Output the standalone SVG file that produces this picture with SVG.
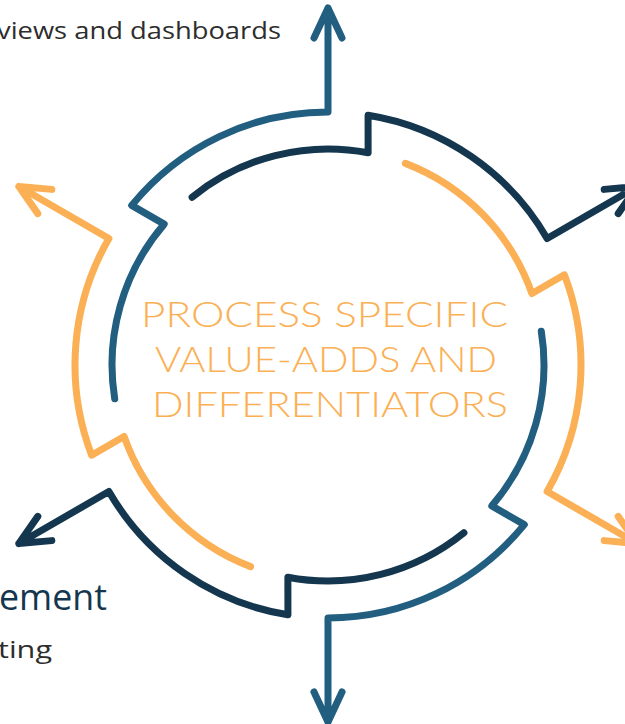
<svg xmlns="http://www.w3.org/2000/svg" xmlns:xlink="http://www.w3.org/1999/xlink" width="625" height="724" viewBox="0 0 625 724">
<style>
.seg{fill:none;stroke-width:7;stroke-linecap:round;stroke-linejoin:round}
.blue{stroke:#215e80}
.navy{stroke:#14374f}
.orange{stroke:#fbb055}
.center{font-family:Lato,"Open Sans","Liberation Sans",sans-serif;font-weight:300;font-size:35px;fill:#fbb055}
.label{font-family:"Open Sans",Lato,"Liberation Sans",sans-serif;font-size:23px;fill:#2d2d2d}
.head{font-family:"Open Sans",Lato,"Liberation Sans",sans-serif;font-size:36px;fill:#14374f}
</style>
<defs>
<path id="seg" d="M314 38 L328 8 L342 38 M328 8 L328 112 A253 253 0 0 0 131.7 205.4 L164.2 224.1 A216 216 0 0 0 114.7 398.8"/>
</defs>
<g id="connectors">
<use id="seg-top" href="#seg" xlink:href="#seg" class="seg blue"/>
<use id="seg-upper-right" href="#seg" xlink:href="#seg" class="seg navy" transform="rotate(60 328 365)"/>
<use id="seg-lower-right" href="#seg" xlink:href="#seg" class="seg orange" transform="rotate(120 328 365)"/>
<use id="seg-bottom" href="#seg" xlink:href="#seg" class="seg blue" transform="rotate(180 328 365)"/>
<use id="seg-lower-left" href="#seg" xlink:href="#seg" class="seg navy" transform="rotate(240 328 365)"/>
<use id="seg-upper-left" href="#seg" xlink:href="#seg" class="seg orange" transform="rotate(300 328 365)"/>
</g>
<g id="center-label">
<text class="center" x="141" y="327" textLength="367" lengthAdjust="spacingAndGlyphs">PROCESS SPECIFIC</text>
<text class="center" x="155" y="372" textLength="342" lengthAdjust="spacingAndGlyphs">VALUE-ADDS AND</text>
<text class="center" x="152" y="417" textLength="356" lengthAdjust="spacingAndGlyphs">DIFFERENTIATORS</text>
</g>
<g id="label-top">
<text class="label" x="-3" y="39" textLength="284" lengthAdjust="spacingAndGlyphs">views and dashboards</text>
</g>
<g id="label-bottom-left">
<text class="head" x="-1" y="610" textLength="108" lengthAdjust="spacingAndGlyphs">ement</text>
<text class="label" x="-2" y="658" textLength="54" lengthAdjust="spacingAndGlyphs">ting</text>
</g>
</svg>
